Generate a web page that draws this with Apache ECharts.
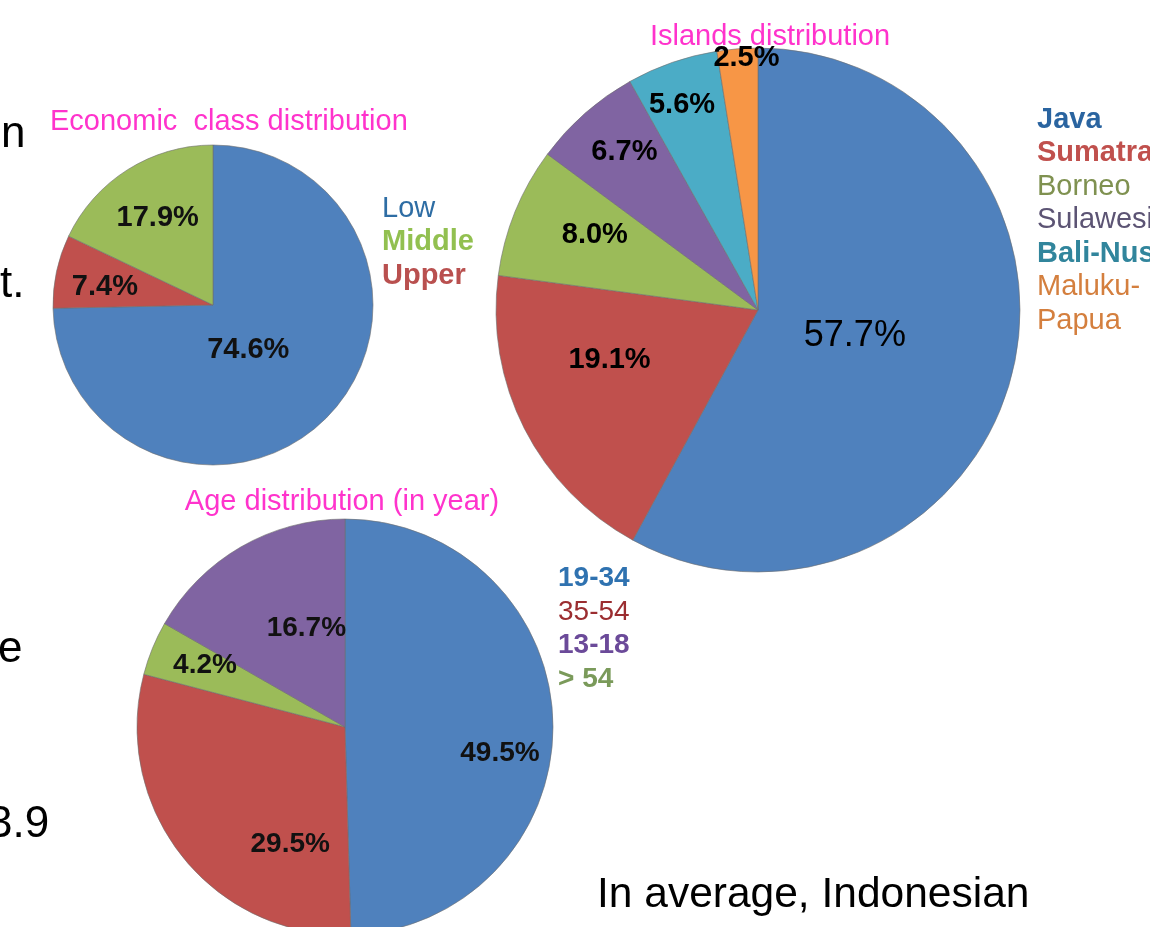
<!DOCTYPE html>
<html>
<head>
<meta charset="utf-8">
<script src="https://cdn.jsdelivr.net/npm/echarts@6/dist/echarts.min.js"></script>
<style>
  html, body { margin: 0; padding: 0; background: #fff; }
  #chart { width: 1150px; height: 927px; }
</style>
</head>
<body>
<div id="chart"></div>
<script>
// economic class (clockwise from 12 o'clock)
var econNames = ['Low', 'Upper', 'Middle'];
var econValues = [74.6, 7.4, 17.9];
var econLegend = ['Low', 'Middle', 'Upper'];

// islands
var islandNames = ['Java', 'Sumatra', 'Borneo', 'Sulawesi', 'Bali-Nusa', 'Maluku-Papua'];
var islandValues = [57.7, 19.1, 8.0, 6.7, 5.6, 2.5];

// age
var ageNames = ['19-34', '35-54', '> 54', '13-18'];
var ageValues = [49.5, 29.5, 4.2, 16.7];
var ageLegend = ['19-34', '35-54', '13-18', '> 54'];

var colors = {
    'Low': '#4f81bd', 'Upper': '#c0504d', 'Middle': '#9bbb59',
    'Java': '#4f81bd', 'Sumatra': '#c0504d', 'Borneo': '#9bbb59',
    'Sulawesi': '#8064a2', 'Bali-Nusa': '#4bacc6', 'Maluku-Papua': '#f79646',
    '19-34': '#4f81bd', '35-54': '#c0504d', '> 54': '#9bbb59', '13-18': '#8064a2'
};

// legend text look
var legendText = {
    'Low': ['#2e6da4', 'normal'], 'Middle': ['#92c050', 'bold'], 'Upper': ['#b9504f', 'bold'],
    'Java': ['#2a64a0', 'bold'], 'Sumatra': ['#c0504d', 'bold'], 'Borneo': ['#7f9150', 'normal'],
    'Sulawesi': ['#5c5474', 'normal'], 'Bali-Nusa': ['#31859c', 'bold'], 'Maluku-Papua': ['#d47f3e', 'normal'],
    '19-34': ['#2f72b0', 'bold'], '35-54': ['#9b2d30', 'normal'], '13-18': ['#6b4a99', 'bold'], '> 54': ['#7a9a5a', 'bold']
};

// small label nudges (dx, dy) from the default inside position
var nudge = {
    'Low': [-24, -13], 'Upper': [-27, -1], 'Middle': [-11, -17],
    'Java': [-33, -7], 'Sumatra': [-29, -11], 'Borneo': [-39, -25],
    'Sulawesi': [-45, -57], 'Bali-Nusa': [-32, -78], 'Maluku-Papua': [-1, -118],
    '19-34': [48, 28], '35-54': [29, 51], '> 54': [-41, -21], '13-18': [15, -6]
};

var narrow = '"Liberation Sans Narrow", "Arial Narrow", "Liberation Sans", Arial, sans-serif';
var arial = '"Liberation Sans", Arial, sans-serif';

function pieData(names, values) {
    return names.map(function(n, i) {
        return { name: n, value: values[i], itemStyle: { color: colors[n] } };
    });
}

function legendData(names) {
    return names.map(function(n) {
        return { name: n, icon: 'none', textStyle: { color: legendText[n][0], fontWeight: legendText[n][1] } };
    });
}

function pct(p) { return p.value.toFixed(1) + '%'; }

function layoutFor(names) {
    return function(p) {
        var d = nudge[names[p.dataIndex]];
        return { dx: d[0], dy: d[1] };
    };
}

var chart = echarts.init(document.getElementById('chart'));

var option = {
    animation: false,
    title: [
        { text: 'Economic  class distribution', left: 45, top: 102,
          textStyle: { color: '#ff33cc', fontSize: 29, fontWeight: 'normal', fontFamily: arial } },
        { text: 'Islands distribution', left: 765, top: 17, textAlign: 'center',
          textStyle: { color: '#ff33cc', fontSize: 29, fontWeight: 'normal', fontFamily: narrow } },
        { text: 'Age distribution (in year)', left: 337, top: 482, textAlign: 'center',
          textStyle: { color: '#ff33cc', fontSize: 29, fontWeight: 'normal', fontFamily: narrow } }
    ],
    legend: [
        { data: legendData(econLegend), orient: 'vertical', left: 377, top: 192, padding: 0,
          itemWidth: 0, itemHeight: 0, itemGap: 0, selectedMode: false,
          textStyle: { fontSize: 29, lineHeight: 33.5, fontFamily: arial } },
        { data: legendData(islandNames), orient: 'vertical', left: 1032, top: 103, padding: 0,
          itemWidth: 0, itemHeight: 0, itemGap: 0, selectedMode: false,
          formatter: function(n) { return n === 'Maluku-Papua' ? 'Maluku-\nPapua' : n; },
          textStyle: { fontSize: 29, lineHeight: 33.5, fontFamily: arial } },
        { data: legendData(ageLegend), orient: 'vertical', left: 553, top: 562, padding: 0,
          itemWidth: 0, itemHeight: 0, itemGap: 0, selectedMode: false,
          textStyle: { fontSize: 28, lineHeight: 33.5, fontFamily: narrow } }
    ],
    series: [
        {
            name: 'Economic', type: 'pie', center: [213, 305], radius: 160,
            startAngle: 90, clockwise: true, silent: true,
            itemStyle: { borderColor: 'rgba(110,110,110,0.6)', borderWidth: 1 },
            label: { position: 'inside', formatter: pct, color: '#111',
                     fontSize: 29, fontWeight: 'bold', fontFamily: arial },
            labelLayout: layoutFor(econNames),
            data: pieData(econNames, econValues)
        },
        {
            name: 'Islands', type: 'pie', center: [758, 310], radius: 262,
            startAngle: 90, clockwise: true, silent: true,
            itemStyle: { borderColor: 'rgba(110,110,110,0.6)', borderWidth: 1 },
            label: { position: 'inside', formatter: pct, color: '#000',
                     fontSize: 29, fontWeight: 'bold', fontFamily: narrow },
            labelLayout: layoutFor(islandNames),
            data: pieData(islandNames, islandValues).map(function(d, i) {
                if (i === 0) d.label = { fontSize: 36, fontWeight: 'normal' };
                return d;
            })
        },
        {
            name: 'Age', type: 'pie', center: [345, 727], radius: 208,
            startAngle: 90, clockwise: true, silent: true,
            itemStyle: { borderColor: 'rgba(110,110,110,0.6)', borderWidth: 1 },
            label: { position: 'inside', formatter: pct, color: '#111',
                     fontSize: 28, fontWeight: 'bold', fontFamily: narrow },
            labelLayout: layoutFor(ageNames),
            data: pieData(ageNames, ageValues)
        }
    ],
    graphic: [
        { type: 'text', left: 1, top: 113, style: { text: 'n', fontSize: 44, fontFamily: arial, fill: '#000' } },
        { type: 'text', left: 0, top: 263, style: { text: 't.', fontSize: 44, fontFamily: arial, fill: '#000' } },
        { type: 'text', left: -2, top: 628, style: { text: 'e', fontSize: 44, fontFamily: arial, fill: '#000' } },
        { type: 'text', left: -12, top: 803, style: { text: '3.9', fontSize: 44, fontFamily: arial, fill: '#000' } },
        { type: 'text', left: 597, top: 874, style: { text: 'In average, Indonesian', fontSize: 42.5, fontFamily: arial, fill: '#000' } }
    ]
};

chart.setOption(option);
</script>
</body>
</html>
